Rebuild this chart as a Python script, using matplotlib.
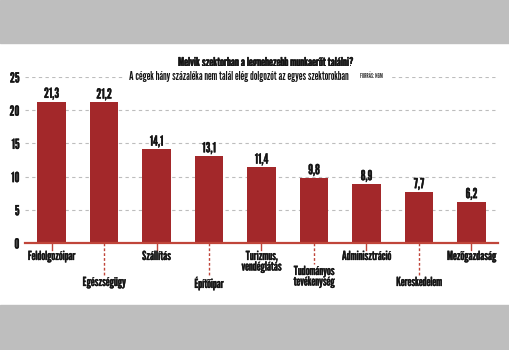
import matplotlib
matplotlib.use("Agg")
import matplotlib.pyplot as plt
import matplotlib.patheffects as pe
from matplotlib.transforms import blended_transform_factory

# Data
categories = ["Feldolgozóipar", "Egészségügy", "Szállítás", "Építőipar",
              "Turizmus,\nvendéglátás", "Tudományos\ntevékenység",
              "Adminisztráció", "Kereskedelem", "Mezőgazdaság"]
values = [21.3, 21.2, 14.1, 13.1, 11.4, 9.8, 8.9, 7.7, 6.2]
yticks = [0, 5, 10, 15, 20, 25]
title = "Melyik szektorban a legnehezebb munkaerőt találni?"
subtitle = "A cégek hány százaléka nem talál elég dolgozót az egyes szektorokban"
source = "FORRÁS: NGM"

plt.rcParams["font.family"] = ["League Gothic", "DejaVu Sans"]

BAR = "#A3282A"
AXIS_RED = "#C0453A"
GRID = "#BDBDBD"
BAND = "#BEBEBE"
INK = "#151515"


def heavy(w):
    # thicken the condensed face slightly
    return [pe.withStroke(linewidth=w, foreground=INK)]


W, H = 510, 350
fig = plt.figure(figsize=(W / 100, H / 100), dpi=100)
fig.patch.set_facecolor("white")

# grey bands at top and bottom
fig.patches.append(plt.Rectangle((0, 1 - 43 / H), 1, 43 / H, transform=fig.transFigure,
                                 color=BAND, zorder=0))
fig.patches.append(plt.Rectangle((0, 0), 1, 45 / H, transform=fig.transFigure,
                                 color=BAND, zorder=0))

ax_l, ax_r, ax_b, ax_t = 25, 498, 243, 77
ax = fig.add_axes([ax_l / W, (H - ax_b) / H, (ax_r - ax_l) / W, (ax_b - ax_t) / H])
ax.set_facecolor("none")

x = list(range(len(categories)))
ax.bar(x, values, width=0.55, color=BAR, zorder=3)
ax.set_xlim(-0.505, len(categories) - 1 + 0.505)
ax.set_ylim(0, 25)

for t in yticks[1:]:
    ax.axhline(t, color=GRID, lw=0.8, ls=(0, (3, 3)), zorder=1)

for s in ["top", "right", "left"]:
    ax.spines[s].set_visible(False)
ax.spines["bottom"].set_color(AXIS_RED)
ax.spines["bottom"].set_linewidth(1.6)
ax.spines["bottom"].set_zorder(4)

ax.set_yticks(yticks)
ax.set_yticklabels([str(t) for t in yticks], fontsize=10, color=INK)
for lbl in ax.get_yticklabels():
    lbl.set_path_effects(heavy(0.25))
ax.tick_params(axis="y", length=0, pad=4)
ax.set_xticks([])

# value labels
for xi, v in zip(x, values):
    ax.annotate(f"{v:.1f}".replace(".", ","), (xi, v), xytext=(0, 0.5),
                textcoords="offset points", ha="center", va="bottom",
                fontsize=10, color=INK, path_effects=heavy(0.25))

# category labels on alternating levels
trans = blended_transform_factory(ax.transData, ax.transAxes)
px = 1 / (ax_b - ax_t)
for i, (xi, lab) in enumerate(zip(x, categories)):
    two_lines = "\n" in lab
    if i % 2 == 0:
        ax.plot([xi, xi], [0, -7 * px], transform=trans, color=AXIS_RED,
                lw=1.0, clip_on=False, zorder=2)
        top = 8
    else:
        depth = 21 if two_lines else 32
        ax.plot([xi, xi], [0, -depth * px], transform=trans, color=AXIS_RED,
                lw=1.0, ls=(0, (2, 1.5)), clip_on=False, zorder=2)
        top = depth + 2
    ax.annotate(lab, (xi, 0), xycoords=trans, xytext=(0, -top * 0.72),
                textcoords="offset points", ha="center", va="top",
                fontsize=9, linespacing=0.95, path_effects=heavy(0.2),
                color=INK, annotation_clip=False)

# titles
fig.text(266 / W, 1 - 63 / H, title, ha="center", va="center",
         fontsize=9.2, color=INK, path_effects=heavy(0.35))
fig.text(239 / W, 1 - 76 / H, subtitle, ha="center", va="center",
         fontsize=8.5, color=INK,
         bbox=dict(facecolor="white", edgecolor="none", pad=3))
fig.text(371 / W, 1 - 76 / H, source, ha="center", va="center",
         fontsize=4.5, color="#333333",
         bbox=dict(facecolor="white", edgecolor="none", pad=6))

fig.savefig("out.png", dpi=100)
